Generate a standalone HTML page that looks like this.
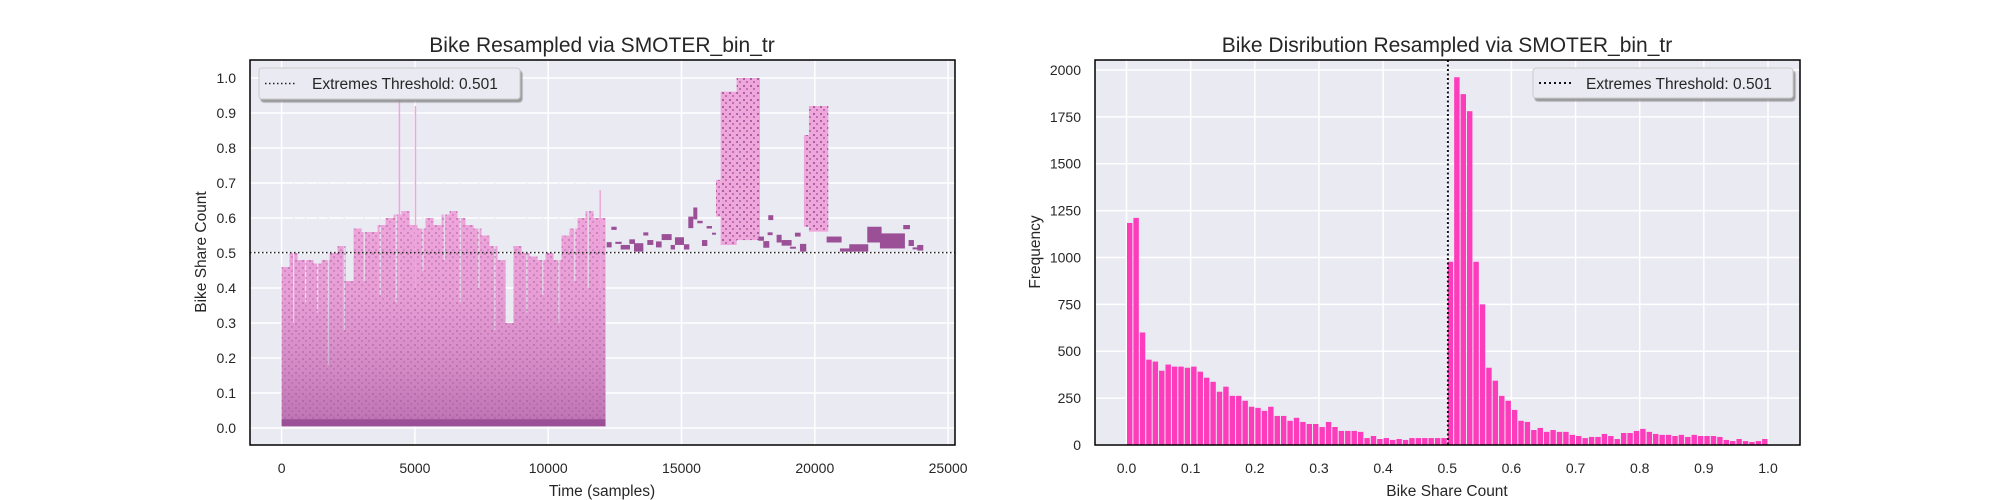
<!DOCTYPE html>
<html><head><meta charset="utf-8"><style>
html,body{margin:0;padding:0;background:#fff}
svg{display:block;font-family:"Liberation Sans",sans-serif}
</style></head><body>
<svg id="chart" width="2000" height="500" viewBox="0 0 2000 500" xmlns="http://www.w3.org/2000/svg">
<defs>
<linearGradient id="dotgrad" x1="0" y1="1" x2="0" y2="0">
<stop offset="0" stop-color="#9b4f96" stop-opacity="0.6"/>
<stop offset="0.25" stop-color="#9b4f96" stop-opacity="0.35"/>
<stop offset="0.6" stop-color="#9b4f96" stop-opacity="0.1"/>
<stop offset="1" stop-color="#9b4f96" stop-opacity="0"/>
</linearGradient>
<pattern id="speck" width="7" height="7" patternUnits="userSpaceOnUse">
<rect x="1" y="1" width="2" height="2" fill="#9b4f96" opacity="0.8"/>
<rect x="4" y="4" width="2" height="2" fill="#9b4f96" opacity="0.6"/>
</pattern>
<clipPath id="clipL"><rect x="250" y="60" width="705" height="385"/></clipPath>
<filter id="shadow" x="-5%" y="-20%" width="115%" height="160%"><feDropShadow dx="2" dy="3" stdDeviation="0.6" flood-color="#888" flood-opacity="0.8"/></filter>
</defs>
<g id="left"></g>
<g id="right"></g>
</svg>
<script>
// ---------- LEFT CHART DATA ----------
const envTimes = [0,300,600,900,1200,1500,1800,2100,2400,2700,3000,3300,3600,3900,4200,4500,4800,5100,5400,5700,6000,6300,6600,6900,7200,7500,7800,8100,8400,8700,9000,9300,9600,9900,10200,10500,10800,11100,11400,11700,12000,12150];
const envPeaks = [0.46,0.50,0.48,0.48,0.47,0.48,0.50,0.52,0.42,0.57,0.56,0.56,0.58,0.60,0.61,0.62,0.58,0.57,0.60,0.58,0.61,0.62,0.60,0.58,0.57,0.55,0.52,0.48,0.30,0.52,0.50,0.49,0.48,0.50,0.48,0.55,0.57,0.60,0.62,0.60,0.60,0.60];
const gapTimes = [450,900,1350,1750,2350,3100,3700,4300,5300,6100,6700,7400,8000,9200,9800,10400,11000,11500];
const gapTops  = [0.30,0.36,0.33,0.18,0.28,0.42,0.38,0.36,0.45,0.48,0.36,0.40,0.28,0.33,0.38,0.30,0.42,0.40];
const spikeTimes = [4420,5020,11950];
const spikeValues = [0.95,0.92,0.68];
const blockStart = [12193,12368,12518,12718,13043,13218,13568,13718,14043,14255,14593,14755,15093,15255,15443,15593,15768,15943,16143,17880,18068,18255,18230,18568,18755,19068,19255,19443,20443,20943,21293,21968,22443,23318,23518,23668,23843];
const blockEnd   = [12380,12568,12755,13068,13255,13568,13755,13943,14255,14630,14755,15093,15293,15443,15593,15793,15968,16143,16293,18093,18293,18443,18418,18755,19130,19293,19468,19680,21005,21443,22005,22505,23380,23568,23718,23868,24068];
const blockLow   = [0.516,0.566,0.526,0.510,0.526,0.504,0.550,0.523,0.516,0.537,0.510,0.523,0.510,0.571,0.596,0.585,0.520,0.570,0.553,0.535,0.515,0.594,0.551,0.530,0.521,0.514,0.547,0.504,0.530,0.504,0.504,0.530,0.513,0.568,0.520,0.512,0.507];
const blockHigh  = [0.531,0.575,0.532,0.523,0.539,0.528,0.559,0.537,0.533,0.554,0.523,0.545,0.525,0.604,0.630,0.592,0.537,0.577,0.558,0.547,0.534,0.608,0.559,0.552,0.537,0.518,0.558,0.526,0.547,0.513,0.525,0.575,0.556,0.580,0.537,0.516,0.523];
const tallStart = [16293,16468,17068,19593,19780];
const tallEnd   = [16468,17068,17943,19780,20505];
const tallLow   = [0.604,0.523,0.537,0.575,0.561];
const tallHigh  = [0.709,0.961,1.000,0.837,0.920];
const threshold = 0.501;
const yTicksL = [0,0.1,0.2,0.3,0.4,0.5,0.6,0.7,0.8,0.9,1.0];
const xTicksL = [0,5000,10000,15000,20000,25000];

// ---------- RIGHT CHART DATA ----------
const binEdgesStart = 0, binWidth = 0.01;
const counts = [1184,1211,600,455,445,396,429,418,418,412,418,391,359,337,284,311,262,262,236,204,198,182,204,155,155,129,145,123,112,112,96,123,96,75,75,75,70,37,48,32,37,27,32,27,37,37,37,37,37,37,
977,1961,1871,1780,977,750,412,343,262,236,187,129,123,80,91,70,80,70,70,54,48,37,43,43,59,48,32,64,64,75,86,70,59,54,54,48,54,43,54,48,48,48,43,27,21,32,21,16,21,32];
const yTicksR = [0,250,500,750,1000,1250,1500,1750,2000];
const xTicksR = [0,0.1,0.2,0.3,0.4,0.5,0.6,0.7,0.8,0.9,1.0];

const NS="http://www.w3.org/2000/svg";
function mk(parent,tag,attrs,text){const e=document.createElementNS(NS,tag);for(const k in attrs)e.setAttribute(k,attrs[k]);if(text!==undefined)e.textContent=text;parent.appendChild(e);return e;}

// ===== LEFT =====
const L=document.getElementById('left');
const lx0=250,lx1=955,ly0=60,ly1=445;
const xs=t=>281.6+t*0.02666;
const ys=v=>428-v*350;
let e;
e=mk(L,'rect',{x:lx0,y:ly0,width:lx1-lx0,height:ly1-ly0,fill:'#eaeaf2'});


yTicksL.forEach(v=>{
 e=mk(L,'line',{x1:lx0,x2:lx1,y1:ys(v),y2:ys(v),stroke:'#fff','stroke-width':1.5});
 
 
 e=mk(L,'text',{x:236,y:ys(v)+5,'text-anchor':'end','font-size':14,fill:'#262626'},v.toFixed(1));
 
 
});
xTicksL.forEach(t=>{
 e=mk(L,'line',{x1:xs(t),x2:xs(t),y1:ly0,y2:ly1,stroke:'#fff','stroke-width':1.5});
 
 
 e=mk(L,'text',{x:xs(t),y:473,'text-anchor':'middle','font-size':14,fill:'#262626'},String(t));
 
 
});
const G=mk(L,'g',{'clip-path':'url(#clipL)'});
let pts=[xs(envTimes[0])+','+ys(0.005)];
for(let i=0;i<envTimes.length-1;i++){pts.push(xs(envTimes[i])+','+ys(envPeaks[i]));pts.push(xs(envTimes[i+1])+','+ys(envPeaks[i]));}
pts.push(xs(envTimes[envTimes.length-1])+','+ys(0.005));
e=mk(G,'polygon',{points:pts.join(' '),fill:'#efa6db'});


gapTimes.forEach((t,i)=>{
 e=mk(G,'line',{x1:xs(t),x2:xs(t),y1:ys(gapTops[i]),y2:ys(0.7),stroke:'#eaeaf2','stroke-width':1.2});
 
 
});
e=mk(G,'polygon',{points:pts.join(' '),fill:'url(#dotgrad)'});


e=mk(G,'polygon',{points:pts.join(' '),fill:'url(#speck)',opacity:0.5});


e=mk(G,'rect',{x:xs(envTimes[0]),y:ys(0.025),width:xs(envTimes[envTimes.length-1])-xs(envTimes[0]),height:ys(0.005)-ys(0.025),fill:'#9b4f96'});


spikeTimes.forEach((t,i)=>{
 e=mk(G,'line',{x1:xs(t),x2:xs(t),y1:ys(0.4),y2:ys(spikeValues[i]),stroke:'#efa6db','stroke-width':1.5});
 
 
});
tallStart.forEach((s,i)=>{
 e=mk(G,'rect',{x:xs(s),y:ys(tallHigh[i]),width:xs(tallEnd[i])-xs(s),height:ys(tallLow[i])-ys(tallHigh[i]),fill:'#efa6db'});
 
 
 e=mk(G,'rect',{x:xs(s),y:ys(tallHigh[i]),width:xs(tallEnd[i])-xs(s),height:ys(tallLow[i])-ys(tallHigh[i]),fill:'url(#speck)'});
 
 
});
blockStart.forEach((s,i)=>{
 e=mk(G,'rect',{x:xs(s),y:ys(blockHigh[i]),width:Math.max(2,xs(blockEnd[i])-xs(s)),height:Math.max(2,ys(blockLow[i])-ys(blockHigh[i])),fill:'#9b4f96'});
 
 
});
e=mk(G,'line',{x1:lx0,x2:lx1,y1:ys(threshold),y2:ys(threshold),stroke:'#222','stroke-width':1.5,'stroke-dasharray':'1.5,2.5'});


e=mk(L,'rect',{x:lx0,y:ly0,width:lx1-lx0,height:ly1-ly0,fill:'none',stroke:'#000','stroke-width':1.5});


e=mk(L,'text',{x:602,y:52,'text-anchor':'middle','font-size':21,fill:'#262626'},'Bike Resampled via SMOTER_bin_tr');


e=mk(L,'text',{x:602,y:496,'text-anchor':'middle','font-size':15.5,fill:'#262626'},'Time (samples)');


e=mk(L,'text',{x:206,y:252,'text-anchor':'middle','font-size':15.5,fill:'#262626',transform:'rotate(-90 206 252)'},'Bike Share Count');


const LG=mk(L,'g',{});


mk(LG,'rect',{x:259,y:68,width:261,height:31,rx:3,fill:'#eaeaf2',stroke:'#ccc','stroke-width':1,filter:'url(#shadow)'});
mk(LG,'line',{x1:265,x2:297,y1:83.5,y2:83.5,stroke:'#222','stroke-width':1.5,'stroke-dasharray':'1.5,2.5'});
e=mk(LG,'text',{x:312,y:89,'font-size':15.5,fill:'#262626'},'Extremes Threshold: 0.501');



// ===== RIGHT =====
const R=document.getElementById('right');
const rx0=1095,rx1=1800,ry0=60,ry1=445;
const xh=v=>1126.5+v*641.5;
const yh=c=>445-c*(385/2053);
e=mk(R,'rect',{x:rx0,y:ry0,width:rx1-rx0,height:ry1-ry0,fill:'#eaeaf2'});


yTicksR.forEach(c=>{
 e=mk(R,'line',{x1:rx0,x2:rx1,y1:yh(c),y2:yh(c),stroke:'#fff','stroke-width':1.5});
 
 
 e=mk(R,'text',{x:1081,y:yh(c)+5,'text-anchor':'end','font-size':14,fill:'#262626'},String(c));
 
 
});
xTicksR.forEach(v=>{
 e=mk(R,'line',{x1:xh(v),x2:xh(v),y1:ry0,y2:ry1,stroke:'#fff','stroke-width':1.5});
 
 
 e=mk(R,'text',{x:xh(v),y:473,'text-anchor':'middle','font-size':14,fill:'#262626'},v.toFixed(1));
 
 
});
counts.forEach((c,i)=>{
 const a=binEdgesStart+i*binWidth, b=a+binWidth;
 e=mk(R,'rect',{x:xh(a)+0.5,y:yh(c),width:xh(b)-xh(a)-1,height:yh(0)-yh(c),fill:'#fd3cbb'});
 
 
});
e=mk(R,'line',{x1:xh(threshold),x2:xh(threshold),y1:ry0,y2:ry1,stroke:'#111','stroke-width':2,'stroke-dasharray':'2,2.5'});


e=mk(R,'rect',{x:rx0,y:ry0,width:rx1-rx0,height:ry1-ry0,fill:'none',stroke:'#000','stroke-width':1.5});


e=mk(R,'text',{x:1447,y:52,'text-anchor':'middle','font-size':21,fill:'#262626'},'Bike Disribution Resampled via SMOTER_bin_tr');


e=mk(R,'text',{x:1447,y:496,'text-anchor':'middle','font-size':15.5,fill:'#262626'},'Bike Share Count');


e=mk(R,'text',{x:1040,y:252,'text-anchor':'middle','font-size':15.5,fill:'#262626',transform:'rotate(-90 1040 252)'},'Frequency');


const RG=mk(R,'g',{});


mk(RG,'rect',{x:1533,y:68,width:260,height:30,rx:3,fill:'#eaeaf2',stroke:'#ccc','stroke-width':1,filter:'url(#shadow)'});
mk(RG,'line',{x1:1539,x2:1571,y1:83,y2:83,stroke:'#111','stroke-width':2,'stroke-dasharray':'2,3'});
e=mk(RG,'text',{x:1586,y:89,'font-size':15.5,fill:'#262626'},'Extremes Threshold: 0.501');


</script>
</body></html>
